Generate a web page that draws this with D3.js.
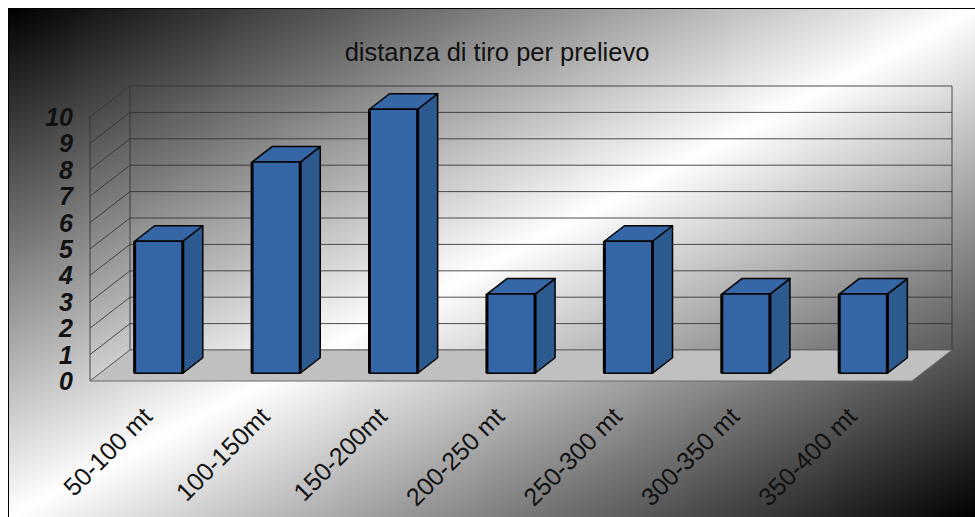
<!DOCTYPE html>
<html>
<head>
<meta charset="utf-8">
<script src="https://cdn.jsdelivr.net/npm/d3@7/dist/d3.min.js"></script>
<style>
  html, body { margin: 0; padding: 0; background: #fff; }
  svg { display: block; }
</style>
</head>
<body>
<svg id="chart" width="975" height="517"></svg>
<script>
// Data
const title = "distanza di tiro per prelievo";
const categories = ["50-100 mt", "100-150mt", "150-200mt", "200-250 mt", "250-300 mt", "300-350 mt", "350-400 mt"];
const values = [5, 8, 10, 3, 5, 3, 3];
const yTicks = [0, 1, 2, 3, 4, 5, 6, 7, 8, 9, 10];

const svg = d3.select("#chart");
const W = 975, H = 517;

// Oblique 3D geometry: front floor edge, and offset to the back wall
const floorY = 381, left = 90, right = 912;
const depthDX = 40, depthDY = -31;

const x = d3.scaleBand().domain(categories).range([left, right])
  .paddingInner(0.59).paddingOuter(0.295);
const y = d3.scaleLinear().domain([0, 10]).range([0, 264]);

// projected point: xf on front plane, value v, depth fraction d (0 front, 1 back)
const P = (xf, v, d) => [xf + depthDX * d, floorY - y(v) + depthDY * d];

// Background
const defs = svg.append("defs");
const grad = defs.append("linearGradient").attr("id", "bg")
  .attr("x1", 0).attr("y1", 0).attr("x2", 1).attr("y2", 1);
grad.append("stop").attr("offset", "0%").attr("stop-color", "#000");
grad.append("stop").attr("offset", "50%").attr("stop-color", "#fff");
grad.append("stop").attr("offset", "100%").attr("stop-color", "#000");

svg.append("rect").attr("x", 8.5).attr("y", 8.5).attr("width", W - 8).attr("height", H - 8)
  .attr("fill", "url(#bg)").attr("stroke", "#000").attr("stroke-width", 1);

// Title
svg.append("text").attr("x", 497).attr("y", 61).attr("text-anchor", "middle")
  .attr("font-family", "Liberation Sans, Arial, sans-serif").attr("font-size", 25.5)
  .attr("fill", "#111").text(title);

const grid = svg.append("g").attr("stroke", "#333").attr("stroke-opacity", 0.85)
  .attr("stroke-width", 1).attr("fill", "none");

// Back wall gridlines and left wall diagonals
yTicks.forEach(v => {
  const b0 = P(left, v, 1), b1 = P(right, v, 1), f0 = P(left, v, 0);
  grid.append("line").attr("x1", b0[0]).attr("y1", b0[1]).attr("x2", b1[0]).attr("y2", b1[1]);
  grid.append("line").attr("x1", f0[0]).attr("y1", f0[1]).attr("x2", b0[0]).attr("y2", b0[1]);
});
// Wall edges
[[P(left, 0, 1), P(left, 10, 1)], [P(right, 0, 1), P(right, 10, 1)], [P(left, 0, 0), P(left, 10, 0)]]
  .forEach(([a, b]) => grid.append("line").attr("x1", a[0]).attr("y1", a[1]).attr("x2", b[0]).attr("y2", b[1]));

// Floor
const floor = [P(left, 0, 0), P(right, 0, 0), P(right, 0, 1), P(left, 0, 1)];
svg.append("polygon").attr("points", floor.map(p => p.join(",")).join(" "))
  .attr("fill", "#c0c0c0").attr("stroke", "#6a6a6a").attr("stroke-width", 1);

// Y axis labels
svg.append("g").selectAll("text").data(yTicks).join("text")
  .attr("x", 73).attr("y", d => floorY - y(d))
  .attr("dy", "0.36em").attr("text-anchor", "end")
  .attr("font-family", "Liberation Sans, Arial, sans-serif")
  .attr("font-size", 25).attr("font-weight", "bold").attr("font-style", "italic")
  .attr("fill", "#111").text(d => d);

// Bars
const d0 = 0.25, d1 = 0.75;
const bars = svg.append("g").attr("stroke", "#000").attr("stroke-linejoin", "round");
categories.forEach((c, i) => {
  const v = values[i];
  const xl = x(c), xr = x(c) + x.bandwidth();
  const poly = pts => pts.map(p => p.join(",")).join(" ");
  const front = [P(xl, 0, d0), P(xr, 0, d0), P(xr, v, d0), P(xl, v, d0)];
  const side = [P(xr, 0, d0), P(xr, 0, d1), P(xr, v, d1), P(xr, v, d0)];
  const top = [P(xl, v, d0), P(xr, v, d0), P(xr, v, d1), P(xl, v, d1)];
  bars.append("polygon").attr("points", poly(side)).attr("fill", "#2c5a8f").attr("stroke-width", 1.5);
  bars.append("polygon").attr("points", poly(top)).attr("fill", "#3566a6").attr("stroke-width", 1.5);
  bars.append("polygon").attr("points", poly(front)).attr("fill", "#3465a6").attr("stroke-width", 1.5);
  [[front[0], front[3]], [front[1], front[2]]].forEach(([a, b]) =>
    bars.append("line").attr("x1", a[0]).attr("y1", a[1]).attr("x2", b[0]).attr("y2", b[1])
      .attr("stroke-width", 3));
});

// X axis labels
svg.append("g").selectAll("text").data(categories).join("text")
  .attr("transform", d => `translate(${x(d) + x.bandwidth() / 2 + 5},418) rotate(-45)`)
  .attr("text-anchor", "end")
  .attr("font-family", "Liberation Sans, Arial, sans-serif")
  .attr("font-size", 25).attr("fill", "#111").text(d => d);
</script>
</body>
</html>
